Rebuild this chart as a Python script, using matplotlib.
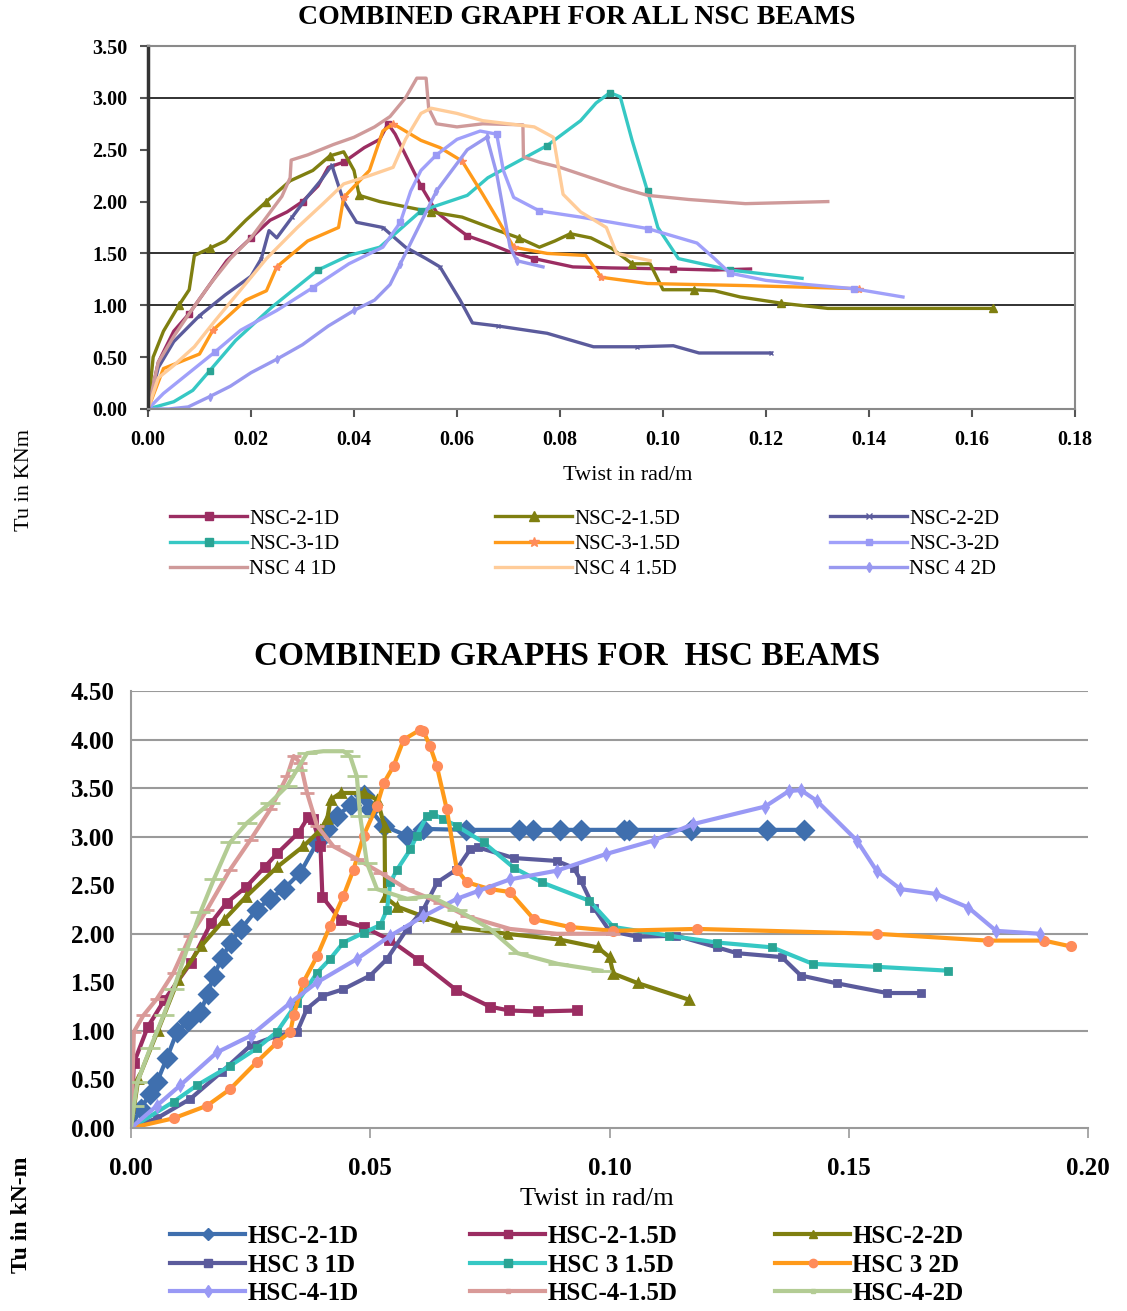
import matplotlib
matplotlib.use("Agg")
import matplotlib.pyplot as plt
from matplotlib.lines import Line2D
from matplotlib.ticker import FormatStrFormatter, MultipleLocator

plt.rcParams['font.family'] = ['Liberation Serif', 'DejaVu Serif']

# ---------------- NSC data ----------------
nsc_labels = ["NSC-2-1D", "NSC-2-1.5D", "NSC-2-2D",
              "NSC-3-1D", "NSC-3-1.5D", "NSC-3-2D",
              "NSC 4 1D", "NSC 4 1.5D", "NSC 4 2D"]

nsc21_x = [0, 0.002, 0.005, 0.008, 0.012, 0.0153, 0.020, 0.0237, 0.027, 0.030, 0.033, 0.035, 0.038, 0.042, 0.045, 0.0466, 0.048, 0.050, 0.053, 0.056, 0.059, 0.062, 0.066, 0.070, 0.075, 0.0825, 0.090, 0.102, 0.110, 0.117]
nsc21_y = [0, 0.45, 0.75, 0.92, 1.2, 1.43, 1.65, 1.82, 1.9, 2.0, 2.15, 2.33, 2.38, 2.52, 2.6, 2.75, 2.65, 2.45, 2.15, 1.9, 1.78, 1.67, 1.6, 1.52, 1.45, 1.37, 1.36, 1.35, 1.34, 1.35]

nsc215_x = [0, 0.001, 0.003, 0.006, 0.008, 0.009, 0.012, 0.015, 0.019, 0.023, 0.0276, 0.032, 0.0353, 0.038, 0.040, 0.041, 0.045, 0.050, 0.055, 0.061, 0.068, 0.072, 0.076, 0.079, 0.082, 0.086, 0.090, 0.094, 0.0975, 0.100, 0.106, 0.110, 0.115, 0.123, 0.132, 0.150, 0.164]
nsc215_y = [0, 0.5, 0.75, 1.0, 1.15, 1.48, 1.55, 1.62, 1.82, 2.0, 2.2, 2.3, 2.44, 2.48, 2.3, 2.06, 2.0, 1.95, 1.9, 1.85, 1.72, 1.65, 1.56, 1.62, 1.69, 1.65, 1.55, 1.4, 1.40, 1.15, 1.15, 1.14, 1.08, 1.02, 0.97, 0.97, 0.97]

nsc22_x = [0, 0.002, 0.005, 0.010, 0.015, 0.020, 0.022, 0.0235, 0.025, 0.028, 0.031, 0.0335, 0.0357, 0.038, 0.0405, 0.0456, 0.050, 0.054, 0.0567, 0.0606, 0.063, 0.068, 0.0775, 0.0865, 0.095, 0.102, 0.107, 0.121]
nsc22_y = [0, 0.4, 0.65, 0.9, 1.1, 1.28, 1.45, 1.72, 1.65, 1.85, 2.05, 2.2, 2.35, 2.0, 1.8, 1.75, 1.56, 1.45, 1.37, 1.05, 0.83, 0.8, 0.73, 0.6, 0.6, 0.61, 0.54, 0.54]

nsc31_x = [0, 0.005, 0.0087, 0.012, 0.017, 0.024, 0.033, 0.039, 0.045, 0.053, 0.062, 0.066, 0.0775, 0.084, 0.087, 0.0897, 0.0917, 0.094, 0.097, 0.099, 0.103, 0.113, 0.127]
nsc31_y = [0, 0.07, 0.18, 0.37, 0.66, 0.98, 1.34, 1.48, 1.56, 1.91, 2.06, 2.23, 2.54, 2.78, 2.95, 3.05, 3.01, 2.59, 2.1, 1.75, 1.45, 1.34, 1.26]

nsc315_x = [0, 0.003, 0.010, 0.0126, 0.019, 0.023, 0.025, 0.031, 0.037, 0.038, 0.043, 0.0456, 0.0476, 0.053, 0.0567, 0.061, 0.065, 0.068, 0.071, 0.0775, 0.085, 0.088, 0.097, 0.116, 0.138]
nsc315_y = [0, 0.39, 0.53, 0.76, 1.05, 1.14, 1.37, 1.62, 1.75, 2.04, 2.3, 2.68, 2.75, 2.59, 2.52, 2.39, 2.07, 1.82, 1.56, 1.5, 1.48, 1.27, 1.21, 1.19, 1.16]

nsc32_x = [0, 0.003, 0.008, 0.013, 0.018, 0.025, 0.032, 0.039, 0.0456, 0.049, 0.051, 0.053, 0.056, 0.060, 0.0645, 0.0677, 0.069, 0.071, 0.076, 0.084, 0.090, 0.097, 0.1066, 0.110, 0.113, 0.120, 0.128, 0.137, 0.1466]
nsc32_y = [0, 0.15, 0.35, 0.55, 0.76, 0.95, 1.17, 1.4, 1.56, 1.8, 2.1, 2.3, 2.45, 2.6, 2.68, 2.65, 2.3, 2.04, 1.91, 1.85, 1.8, 1.74, 1.6, 1.45, 1.31, 1.24, 1.2, 1.16, 1.08]

nsc41_x = [0, 0.002, 0.005, 0.008, 0.012, 0.016, 0.020, 0.023, 0.026, 0.0276, 0.0278, 0.031, 0.036, 0.040, 0.044, 0.047, 0.050, 0.0522, 0.054, 0.0545, 0.056, 0.060, 0.065, 0.0728, 0.0729, 0.076, 0.080, 0.086, 0.092, 0.097, 0.105, 0.116, 0.124, 0.132]
nsc41_y = [0, 0.45, 0.7, 0.92, 1.2, 1.45, 1.65, 1.85, 2.05, 2.23, 2.4, 2.45, 2.55, 2.62, 2.72, 2.82, 3.0, 3.19, 3.19, 2.9, 2.75, 2.72, 2.75, 2.74, 2.43, 2.38, 2.33, 2.23, 2.13, 2.06, 2.02, 1.98, 1.99, 2.0]

nsc415_x = [0, 0.002, 0.005, 0.009, 0.013, 0.018, 0.023, 0.029, 0.034, 0.038, 0.043, 0.0476, 0.050, 0.053, 0.055, 0.060, 0.065, 0.070, 0.075, 0.0787, 0.0806, 0.084, 0.089, 0.091, 0.0975]
nsc415_y = [0, 0.3, 0.42, 0.6, 0.85, 1.15, 1.45, 1.75, 1.98, 2.17, 2.25, 2.33, 2.6, 2.85, 2.9, 2.85, 2.78, 2.75, 2.72, 2.62, 2.07, 1.9, 1.75, 1.5, 1.43]

nsc42_x = [0, 0.004, 0.0078, 0.012, 0.016, 0.020, 0.025, 0.030, 0.035, 0.040, 0.044, 0.047, 0.049, 0.051, 0.053, 0.056, 0.059, 0.062, 0.0658, 0.0677, 0.0703, 0.0716, 0.0767]
nsc42_y = [0, 0.0, 0.02, 0.12, 0.22, 0.35, 0.48, 0.62, 0.8, 0.95, 1.05, 1.2, 1.4, 1.6, 1.8, 2.1, 2.3, 2.5, 2.62, 2.27, 1.56, 1.43, 1.37]

# ---------------- HSC data ----------------
hsc_labels = ["HSC-2-1D", "HSC-2-1.5D", "HSC-2-2D",
              "HSC 3 1D", "HSC 3 1.5D", "HSC 3 2D",
              "HSC-4-1D", "HSC-4-1.5D", "HSC-4-2D"]

hsc21_x = [0, 0.002, 0.004, 0.0054, 0.0075, 0.0096, 0.012, 0.0145, 0.016, 0.0173, 0.019, 0.0208, 0.023, 0.0263, 0.029, 0.0319, 0.0354, 0.0389, 0.041, 0.043, 0.046, 0.0486, 0.050, 0.0528, 0.0577, 0.061, 0.070, 0.081, 0.084, 0.0896, 0.094, 0.103, 0.104, 0.117, 0.133, 0.1406]
hsc21_y = [0, 0.2, 0.35, 0.47, 0.72, 0.99, 1.1, 1.19, 1.38, 1.57, 1.75, 1.91, 2.05, 2.25, 2.36, 2.46, 2.63, 2.94, 3.08, 3.21, 3.33, 3.43, 3.28, 3.11, 3.01, 3.08, 3.07, 3.07, 3.07, 3.07, 3.07, 3.07, 3.07, 3.07, 3.07, 3.07]

hsc215_x = [0, 0.0006, 0.0035, 0.007, 0.0125, 0.0167, 0.020, 0.024, 0.028, 0.0306, 0.035, 0.037, 0.038, 0.0396, 0.040, 0.0438, 0.0486, 0.054, 0.060, 0.068, 0.075, 0.079, 0.085, 0.0933]
hsc215_y = [0, 0.67, 1.04, 1.32, 1.7, 2.11, 2.32, 2.48, 2.69, 2.83, 3.04, 3.2, 3.18, 2.9, 2.38, 2.14, 2.07, 1.94, 1.73, 1.42, 1.25, 1.21, 1.2, 1.21]

hsc22_x = [0, 0.0015, 0.0056, 0.0098, 0.0146, 0.0194, 0.024, 0.0306, 0.036, 0.0396, 0.041, 0.0417, 0.0438, 0.0486, 0.0515, 0.053, 0.0531, 0.0556, 0.061, 0.068, 0.0785, 0.0896, 0.0975, 0.100, 0.1008, 0.106, 0.1167]
hsc22_y = [0, 0.5, 1.0, 1.52, 1.87, 2.14, 2.38, 2.69, 2.9, 3.07, 3.18, 3.38, 3.45, 3.45, 3.38, 3.1, 2.38, 2.28, 2.18, 2.07, 2.0, 1.94, 1.86, 1.76, 1.59, 1.49, 1.32]

hsc31_x = [0, 0.0054, 0.0124, 0.019, 0.025, 0.0305, 0.0347, 0.0368, 0.040, 0.0444, 0.050, 0.0535, 0.0577, 0.0611, 0.064, 0.068, 0.0709, 0.0725, 0.080, 0.089, 0.0925, 0.094, 0.0967, 0.100, 0.1058, 0.114, 0.1225, 0.1267, 0.136, 0.140, 0.1475, 0.158, 0.165]
hsc31_y = [0, 0.1, 0.3, 0.58, 0.85, 0.95, 0.99, 1.23, 1.36, 1.43, 1.57, 1.74, 2.05, 2.25, 2.53, 2.66, 2.87, 2.89, 2.78, 2.75, 2.68, 2.55, 2.27, 2.03, 1.97, 1.98, 1.86, 1.80, 1.76, 1.57, 1.49, 1.39, 1.39]

hsc315_x = [0, 0.0089, 0.0138, 0.0207, 0.0263, 0.0305, 0.0347, 0.0389, 0.0416, 0.0444, 0.0486, 0.0521, 0.0535, 0.0542, 0.0556, 0.0584, 0.0597, 0.0618, 0.0632, 0.0653, 0.0681, 0.0737, 0.080, 0.0858, 0.0958, 0.1008, 0.1125, 0.1225, 0.134, 0.1425, 0.1558, 0.1708]
hsc315_y = [0, 0.27, 0.44, 0.64, 0.82, 0.99, 1.29, 1.6, 1.74, 1.91, 2.01, 2.09, 2.25, 2.53, 2.66, 2.87, 3.01, 3.21, 3.23, 3.18, 3.11, 2.94, 2.68, 2.53, 2.34, 2.07, 1.98, 1.91, 1.86, 1.69, 1.66, 1.62]

hsc32_x = [0, 0.0089, 0.0159, 0.0207, 0.0263, 0.0305, 0.0333, 0.034, 0.036, 0.0389, 0.0416, 0.0444, 0.0465, 0.0486, 0.0514, 0.0528, 0.0549, 0.057, 0.0604, 0.0611, 0.0625, 0.0639, 0.066, 0.0681, 0.0702, 0.075, 0.0792, 0.0842, 0.0917, 0.1008, 0.1183, 0.1558, 0.179, 0.1908, 0.1964]
hsc32_y = [0, 0.1, 0.23, 0.4, 0.68, 0.88, 0.99, 1.16, 1.5, 1.77, 2.08, 2.39, 2.66, 3.01, 3.32, 3.55, 3.73, 4.0, 4.1, 4.09, 3.93, 3.73, 3.28, 2.66, 2.53, 2.46, 2.43, 2.15, 2.07, 2.03, 2.05, 2.0, 1.93, 1.93, 1.87]

hsc41_x = [0, 0.0054, 0.0103, 0.018, 0.025, 0.0333, 0.0389, 0.0472, 0.0542, 0.0611, 0.0681, 0.0725, 0.0792, 0.089, 0.0992, 0.1092, 0.1175, 0.1325, 0.1375, 0.140, 0.1433, 0.1517, 0.1558, 0.1608, 0.1683, 0.175, 0.1808, 0.190]
hsc41_y = [0, 0.23, 0.44, 0.78, 0.95, 1.29, 1.5, 1.74, 1.98, 2.18, 2.36, 2.44, 2.56, 2.65, 2.82, 2.96, 3.13, 3.31, 3.47, 3.48, 3.37, 2.96, 2.65, 2.46, 2.41, 2.27, 2.03, 2.0]

hsc415_x = [0, 0.0006, 0.0026, 0.0054, 0.0089, 0.0124, 0.0159, 0.0207, 0.025, 0.0291, 0.0326, 0.034, 0.0354, 0.0368, 0.0389, 0.0423, 0.0472, 0.0521, 0.0577, 0.0646, 0.0702, 0.0792, 0.089, 0.1008]
hsc415_y = [0, 0.99, 1.16, 1.33, 1.6, 1.98, 2.25, 2.66, 2.97, 3.28, 3.62, 3.83, 3.76, 3.45, 3.11, 2.9, 2.77, 2.63, 2.46, 2.32, 2.18, 2.05, 2.0, 2.0]

hsc42_x = [0, 0.0006, 0.0013, 0.004, 0.0068, 0.0089, 0.0117, 0.0145, 0.0173, 0.0207, 0.0242, 0.0291, 0.0326, 0.0347, 0.0368, 0.0402, 0.0444, 0.0458, 0.0472, 0.0479, 0.0493, 0.0514, 0.0577, 0.0625, 0.0681, 0.075, 0.0808, 0.0892, 0.0983]
hsc42_y = [0, 0.23, 0.47, 0.82, 1.16, 1.43, 1.84, 2.22, 2.56, 2.94, 3.14, 3.35, 3.52, 3.69, 3.86, 3.88, 3.88, 3.83, 3.62, 3.21, 2.73, 2.46, 2.36, 2.39, 2.25, 2.05, 1.8, 1.69, 1.62]

# ---------------- figure ----------------
W, H = 1127, 1311
fig = plt.figure(figsize=(W / 100, H / 100), dpi=100)
fig.patch.set_facecolor('white')


def fx(px):
    return px / W


def fy(py):
    return 1 - py / H


# ======== TOP CHART ========
ax1 = fig.add_axes([fx(148), fy(409), fx(1075) - fx(148), fy(46) - fy(409)])
top_series = [
    (nsc21_x, nsc21_y, '#9B2D62', 's', '#9B2D62', 5),
    (nsc215_x, nsc215_y, '#7F7F10', '^', '#7F7F10', 6),
    (nsc22_x, nsc22_y, '#5B5B9C', 'x', '#5B5B9C', 3),
    (nsc31_x, nsc31_y, '#36C8C4', 's', '#2AA494', 5),
    (nsc315_x, nsc315_y, '#FF9A1A', '*', '#FF8C5A', 6),
    (nsc32_x, nsc32_y, '#A0A0FA', 's', '#9A9AF5', 4),
    (nsc41_x, nsc41_y, '#CF9A9A', None, '#CF9A9A', 0),
    (nsc415_x, nsc415_y, '#FFCC99', None, '#FFCC99', 0),
    (nsc42_x, nsc42_y, '#9999F0', 'd', '#9999F0', 4),
]
top_handles = []
for (xs, ys, col, mk, mcol, ms), lab in zip(top_series, nsc_labels):
    ax1.plot(xs, ys, color=col, lw=2.4, marker=mk, ms=ms, mfc=mcol, mec=mcol,
             markevery=3 if mk else None)
    top_handles.append(Line2D([], [], color=col, lw=2.4, marker=mk, ms=ms + 1,
                              mfc=mcol, mec=mcol, label=lab))

ax1.set_xlim(0, 0.18)
ax1.set_ylim(0, 3.5)
ax1.xaxis.set_major_locator(MultipleLocator(0.02))
ax1.yaxis.set_major_locator(MultipleLocator(0.5))
ax1.xaxis.set_major_formatter(FormatStrFormatter('%.2f'))
ax1.yaxis.set_major_formatter(FormatStrFormatter('%.2f'))
for v in [1.0, 1.5, 3.0]:
    ax1.axhline(v, color='#222222', lw=1.3, zorder=0)
for s in ['top', 'right', 'bottom']:
    ax1.spines[s].set_color('#8A8A8A')
    ax1.spines[s].set_linewidth(1.5)
ax1.spines['left'].set_color('#333333')
ax1.spines['left'].set_linewidth(2.5)
ax1.tick_params(axis='both', direction='out', length=6, width=1.5, color='#555555',
                labelsize=14.5, pad=9)
for t in ax1.get_xticklabels() + ax1.get_yticklabels():
    t.set_fontweight('bold')

fig.text(fx(577), fy(18), 'COMBINED GRAPH FOR ALL NSC BEAMS', ha='center', va='center',
         fontsize=20, fontweight='bold')
fig.text(fx(628), fy(476), 'Twist in rad/m', ha='center', va='center', fontsize=16)
fig.text(fx(25), fy(480), 'Tu in KNm', ha='center', va='center', rotation=90, fontsize=16)

top_cols = [fx(170), fx(495), fx(830)]
for c in range(3):
    hs = [top_handles[c], top_handles[c + 3], top_handles[c + 6]]
    fig.legend(handles=hs, loc='upper left', bbox_to_anchor=(top_cols[c], fy(509)),
               frameon=False, fontsize=15, handlelength=3.7, handletextpad=0.1,
               labelspacing=0.28, borderpad=0, borderaxespad=0)

# ======== BOTTOM CHART ========
ax2 = fig.add_axes([fx(131), fy(1128), fx(1088) - fx(131), fy(691) - fy(1128)])
bot_series = [
    (hsc21_x, hsc21_y, '#3F6FAE', 'D', '#3F6FAE', 9),
    (hsc215_x, hsc215_y, '#9B2D62', 's', '#9B2D62', 6),
    (hsc22_x, hsc22_y, '#7F7F10', '^', '#7F7F10', 6),
    (hsc31_x, hsc31_y, '#5B5B9C', 's', '#5B5B9C', 5),
    (hsc315_x, hsc315_y, '#36C8C4', 's', '#2AA494', 5),
    (hsc32_x, hsc32_y, '#FF9A1A', 'o', '#FF8C5A', 6),
    (hsc41_x, hsc41_y, '#9999F5', 'd', '#9999F5', 5),
    (hsc415_x, hsc415_y, '#D99A98', '_', '#D99A98', 10),
    (hsc42_x, hsc42_y, '#B3CC94', '_', '#B3CC94', 14),
]
bot_handles = []
for (xs, ys, col, mk, mcol, ms), lab in zip(bot_series, hsc_labels):
    ax2.plot(xs, ys, color=col, lw=3.0, marker=mk, ms=ms, mfc=mcol, mec=mcol, mew=2)
    bot_handles.append(Line2D([], [], color=col, lw=3.0, marker=mk if mk != '_' else 's',
                              ms=6 if mk != '_' else 3, mfc=mcol, mec=mcol, label=lab))

ax2.set_xlim(0, 0.20)
ax2.set_ylim(0, 4.5)
ax2.xaxis.set_major_locator(MultipleLocator(0.05))
ax2.yaxis.set_major_locator(MultipleLocator(0.5))
ax2.xaxis.set_major_formatter(FormatStrFormatter('%.2f'))
ax2.yaxis.set_major_formatter(FormatStrFormatter('%.2f'))
for v in [1.0, 2.0, 3.0, 3.5, 4.0, 4.5]:
    ax2.axhline(v, color='#9A9A9A', lw=1.5, zorder=0)
ax2.spines['right'].set_visible(False)
ax2.spines['top'].set_visible(False)
for s in ['left', 'bottom']:
    ax2.spines[s].set_color('#9A9A9A')
    ax2.spines[s].set_linewidth(1.5)
ax2.tick_params(axis='x', direction='out', length=7, width=1.2, color='#9A9A9A',
                labelsize=18, pad=14)
ax2.tick_params(axis='y', length=0, labelsize=18, pad=12)
for t in ax2.get_xticklabels() + ax2.get_yticklabels():
    t.set_fontweight('bold')

fig.text(fx(567), fy(656), 'COMBINED GRAPHS FOR  HSC BEAMS', ha='center', va='center',
         fontsize=24, fontweight='bold')
fig.text(fx(597), fy(1199), 'Twist in rad/m', ha='center', va='center', fontsize=19)
fig.text(fx(22), fy(1215), 'Tu in kN-m', ha='center', va='center', rotation=90,
         fontsize=17, fontweight='bold')

bot_cols = [fx(170), fx(470), fx(775)]
for c in range(3):
    hs = [bot_handles[c], bot_handles[c + 3], bot_handles[c + 6]]
    fig.legend(handles=hs, loc='upper left', bbox_to_anchor=(bot_cols[c], fy(1225)),
               frameon=False, prop={'size': 18, 'weight': 'bold'}, handlelength=3.0,
               handletextpad=0.1, labelspacing=0.22, borderpad=0, borderaxespad=0)

fig.savefig('out.png', dpi=100, facecolor='white')
